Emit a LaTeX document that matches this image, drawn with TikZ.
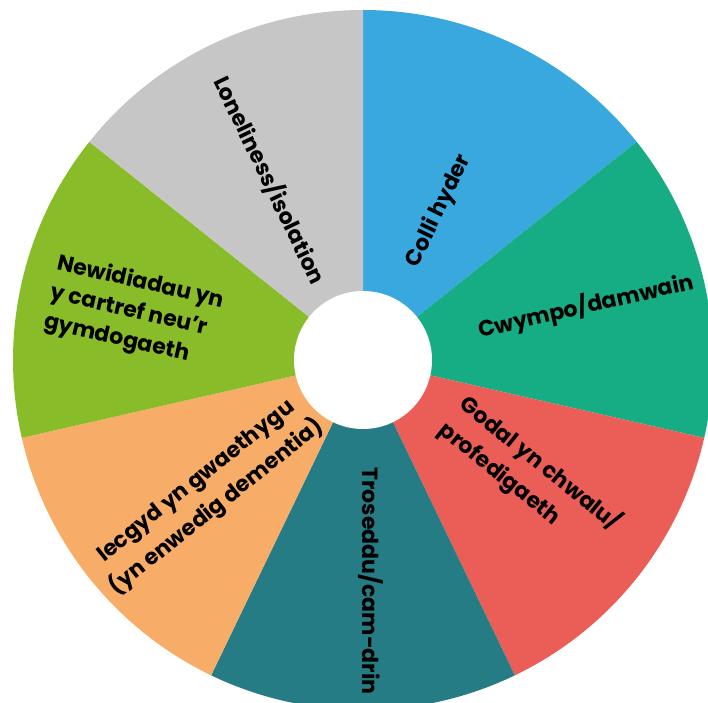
\documentclass[tikz,border=0pt]{standalone}
\usepackage{fontspec}
\setmainfont{Poppins}
\definecolor{cblue}{HTML}{38A8DF}
\definecolor{cgreen}{HTML}{17AD84}
\definecolor{cred}{HTML}{EB5E57}
\definecolor{cteal}{HTML}{257C84}
\definecolor{corange}{HTML}{F7AC67}
\definecolor{clime}{HTML}{88BC28}
\definecolor{cgrey}{HTML}{C6C6C6}
\tikzset{
  lbl/.style={font=\fontsize{22}{30}\selectfont\bfseries, text=black, inner sep=0pt},
  lblwide/.style={lbl, font=\fontsize{22}{33}\selectfont\bfseries},
}
\begin{document}
\begin{tikzpicture}[x=1pt,y=1pt]
\useasboundingbox (0,0) rectangle (708,702);
\clip (0,0) rectangle (708,702);
\coordinate (c) at (363,342);
\def\R{350}
\foreach \a/\col in {90/cblue, 38.5714/cgreen, -12.8571/cred, -64.2857/cteal, -115.7143/corange, -167.1429/clime, -218.5714/cgrey}{
  \fill[\col] (c) -- ++(\a:\R) arc[start angle=\a, end angle=\a-51.4286, radius=\R] -- cycle;
}
\fill[white] (c) circle[radius=69];
\node[lbl, rotate=64.29] (colli) at (439,491) {Colli hyder};
\node[lbl, rotate=12.86] (cwympo) at (586,396) {Cwympo/damwain};
\node[lblwide, rotate=-38.57, align=left] (godal) at (530,226) {Godal yn chwalu/\\profedigaeth};
\node[lbl, rotate=-90] (troseddu) at (371,121) {Troseddu/cam-drin};
\node[lblwide, rotate=38.57, align=center] (iecgyd) at (207,207) {Iecgyd yn gwaethygu\\(yn enwedig dementia)};
\node[lbl, rotate=-12.86, align=left] (newid) at (134,390) {Newidiadau yn\\y cartref neu’r\\gymdogaeth};
\node[lbl, rotate=-64.29] (lonely) at (270,522) {Loneliness/isolation};
\end{tikzpicture}
\end{document}
